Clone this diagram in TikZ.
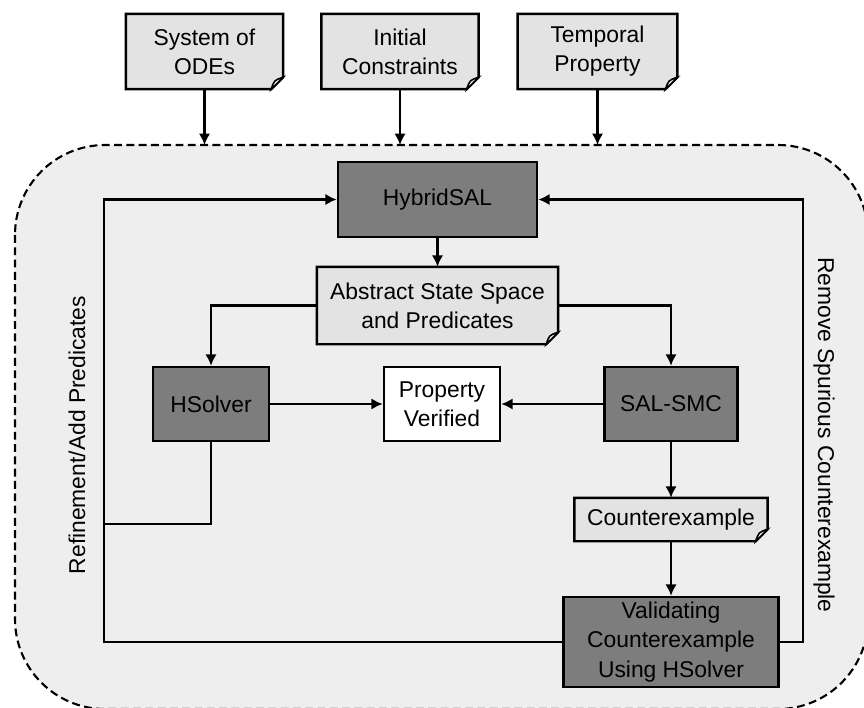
\documentclass[tikz,border=0pt]{standalone}
\usepackage{fontspec}
\setmainfont{Liberation Sans}
\usetikzlibrary{arrows.meta}
\usetikzlibrary{backgrounds}
\usetikzlibrary{calc}

\definecolor{toolgray}{HTML}{7D7D7D}
\definecolor{docgray}{HTML}{E3E3E3}
\definecolor{loopgray}{HTML}{EEEEEE}

\tikzset{
  box/.style={draw, line width=1.4pt, align=center, inner sep=2pt,
    font=\fontsize{13}{16.6}\selectfont},
  tool/.style={box, fill=toolgray},
  result/.style={box, fill=white},
  docbox/.style={box, draw=none},
  link/.style={line width=1.4pt},
  arr/.style={link, -{Latex[length=6.5pt,width=6.5pt]}},
  frame/.style={fill=loopgray, dash pattern=on 4.5pt off 2.5pt, line width=1.2pt,
    rounded corners=1.8cm}
}

\begin{document}
\begin{tikzpicture}[x=0.02cm, y=-0.02cm]
  \useasboundingbox (0,0) rectangle (864,707);
  \coordinate (top) at (0,145);
  \coordinate (lx) at (104,0);
  \coordinate (rx) at (803,0);
  \coordinate (join) at (104,524);

  % inputs
  \node[docbox, minimum width=3.1cm, minimum height=1.46cm] (odes) at (204.5,51.5) {System of\\ODEs};
  \node[docbox, minimum width=3.1cm, minimum height=1.46cm] (init) at (400,51.5) {Initial\\Constraints};
  \node[docbox, minimum width=3.15cm, minimum height=1.46cm] (temp) at (597.5,51.5) {Temporal\\Property};

  % tools and results
  \node[tool, minimum width=3.98cm, minimum height=1.5cm] (hsal) at (437.5,199.5) {HybridSAL};
  \node[docbox, minimum width=4.78cm, minimum height=1.5cm] (abs) at (437.5,305.5) {Abstract State Space\\and Predicates};
  \node[tool, minimum width=2.32cm, minimum height=1.48cm] (hsolver) at (211,404) {HSolver};
  \node[result, minimum width=2.32cm, minimum height=1.48cm] (propv) at (442,404) {Property\\Verified};
  \node[tool, minimum width=2.66cm, minimum height=1.48cm] (smc) at (671,404) {SAL-SMC};
  \node[docbox, minimum width=3.82cm, minimum height=0.82cm] (cex) at (671,519.5) {Counterexample};
  \node[tool, minimum width=4.3cm, minimum height=1.8cm] (valid) at (671,642) {Validating\\Counterexample\\Using HSolver};

  \node[rotate=90, font=\fontsize{13}{16.6}\selectfont] (refine) at (77,435) {Refinement/Add Predicates};
  \node[rotate=-90, font=\fontsize{13}{16.6}\selectfont] (spur) at (824,435) {Remove Spurious Counterexample};

  \foreach \n in {odes,init,temp}
    \draw[arr] (\n) -- (\n |- top);

  \draw[arr] (hsal) -- (abs);
  \draw[arr] (abs.west) -| (hsolver.north);
  \draw[arr] (abs.east) -| (smc.north);
  \draw[arr] (hsolver) -- (propv);
  \draw[arr] (smc) -- (propv);
  \draw[arr] (smc) -- (cex);
  \draw[arr] (cex) -- (valid);

  % feedback loops
  \draw[link] (hsolver.south) |- (join);
  \draw[arr] (valid.west) -| (lx |- hsal.west) -- (hsal.west);
  \draw[arr] (valid.east) -| (rx |- hsal.east) -- (hsal.east);

  % page curls
  \foreach \n in {odes,init,temp,abs,cex}
    \draw[line width=0.9pt, fill=white] ($(\n.south east)+(0,-12)$) .. controls ($(\n.south east)+(-9,-9)$) .. ($(\n.south east)+(-12,0)$) -- cycle;

  \begin{scope}[on background layer]
    \draw[frame] (15,145) rectangle (868,709);
    \foreach \n in {odes,init,temp,abs,cex}
      \draw[link, fill=docgray] (\n.north west) -- (\n.north east) -- ($(\n.south east)+(0,-12)$)
        -- ($(\n.south east)+(-12,0)$) -- (\n.south west) -- cycle;
  \end{scope}
\end{tikzpicture}
\end{document}
